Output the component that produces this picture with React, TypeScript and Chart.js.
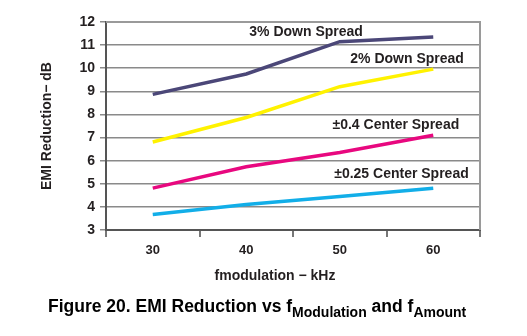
import React, { useEffect, useRef } from "react";
import { Chart, registerables } from "chart.js";

Chart.register(...registerables);

const categories = ["30", "40", "50", "60"];
const down3 = [8.87, 9.75, 11.15, 11.35];
const down2 = [6.81, 7.87, 9.2, 9.96];
const center04 = [4.81, 5.74, 6.35, 7.1];
const center025 = [3.67, 4.1, 4.45, 4.81];
const seriesNames = ["3% Down Spread", "2% Down Spread", "±0.4 Center Spread", "±0.25 Center Spread"];
const labelX = [1.64, 2.72, 2.6, 2.66];
const labelY = [11.58, 10.41, 7.55, 5.43];
const yMin = 3;
const yMax = 12;

const FONT = "Arial, 'Liberation Sans', Helvetica, sans-serif";
const TEXT = "#231f20";

const overlay = {
  id: "overlay",
  afterDraw(chart: any) {
    const ctx = chart.ctx;
    const xs = chart.scales.x;
    const ys = chart.scales.y;
    const area = chart.chartArea;
    ctx.save();
    // top and right border
    ctx.strokeStyle = "#9a9a9a";
    ctx.lineWidth = 2;
    ctx.beginPath();
    ctx.moveTo(area.left, area.top);
    ctx.lineTo(area.right, area.top);
    ctx.lineTo(area.right, area.bottom);
    ctx.stroke();

    // series labels
    ctx.fillStyle = TEXT;
    ctx.font = `bold 14px ${FONT}`;
    ctx.textAlign = "center";
    ctx.textBaseline = "middle";
    const p0 = xs.getPixelForValue(0);
    const p1 = xs.getPixelForValue(1);
    seriesNames.forEach((name, i) => {
      const x = p0 + (p1 - p0) * labelX[i];
      const y = ys.getPixelForValue(labelY[i]);
      ctx.fillText(name, x, y);
    });

    // axis titles
    ctx.font = `bold 14px ${FONT}`;
    ctx.fillText("fmodulation − kHz", 275, 276);
    ctx.save();
    ctx.translate(47, 126);
    ctx.rotate(-Math.PI / 2);
    ctx.fillText("EMI Reduction− dB", 0, 0);
    ctx.restore();

    // caption
    ctx.fillStyle = "#000";
    ctx.textAlign = "left";
    ctx.textBaseline = "alphabetic";
    const parts: [string, boolean][] = [
      ["Figure 20. EMI Reduction vs f", false],
      ["Modulation", true],
      [" and f", false],
      ["Amount", true],
    ];
    let cx = 48;
    parts.forEach(([t, sub]) => {
      ctx.font = sub ? `bold 14px ${FONT}` : `bold 17.5px ${FONT}`;
      ctx.fillText(t, cx, sub ? 317 : 312);
      cx += ctx.measureText(t).width;
    });
    ctx.restore();
  },
};

export default function App() {
  const ref = useRef<HTMLCanvasElement>(null);
  useEffect(() => {
    const mk = (label: string, data: number[], color: string) => ({
      label,
      data,
      borderColor: color,
      backgroundColor: color,
      borderWidth: 3.5,
      pointRadius: 0,
      tension: 0,
      fill: false,
    });
    const chart = new Chart(ref.current!, {
      type: "line",
      data: {
        labels: categories,
        datasets: [
          mk(seriesNames[0], down3, "#4b4778"),
          mk(seriesNames[1], down2, "#fff200"),
          mk(seriesNames[2], center04, "#e8087f"),
          mk(seriesNames[3], center025, "#12aee8"),
        ],
      },
      options: {
        animation: false,
        responsive: true,
        maintainAspectRatio: false,
        layout: { padding: { left: 0, right: 47, top: 22, bottom: 0 } },
        plugins: { legend: { display: false }, tooltip: { enabled: false } },
        scales: {
          x: {
            type: "category",
            offset: true,
            grid: {
              display: true,
              offset: true,
              drawOnChartArea: false,
              drawTicks: true,
              tickLength: 7,
              color: "#777",
              lineWidth: 2,
            },
            border: { display: true, color: "#555", width: 2 },
            ticks: {
              color: TEXT,
              font: { family: FONT, size: 13, weight: "bold" },
              padding: 6,
              maxRotation: 0,
            },
            afterFit(scale: any) {
              scale.height = 106;
            },
          },
          y: {
            min: yMin,
            max: yMax,
            grid: {
              color: "#8a8a8a",
              lineWidth: 1.5,
              drawTicks: true,
              tickLength: 6,
            },
            border: { display: true, color: "#555", width: 2 },
            ticks: {
              stepSize: 1,
              color: TEXT,
              font: { family: FONT, size: 14, weight: "bold" },
              padding: 5,
            },
            afterFit(scale: any) {
              scale.width = 106;
            },
          },
        },
      },
      plugins: [overlay],
    });
    return () => chart.destroy();
  }, []);
  return (
    <div style={{ position: "absolute", left: 0, top: 0, width: 527, height: 336, background: "#fff" }}>
      <canvas ref={ref} />
    </div>
  );
}
